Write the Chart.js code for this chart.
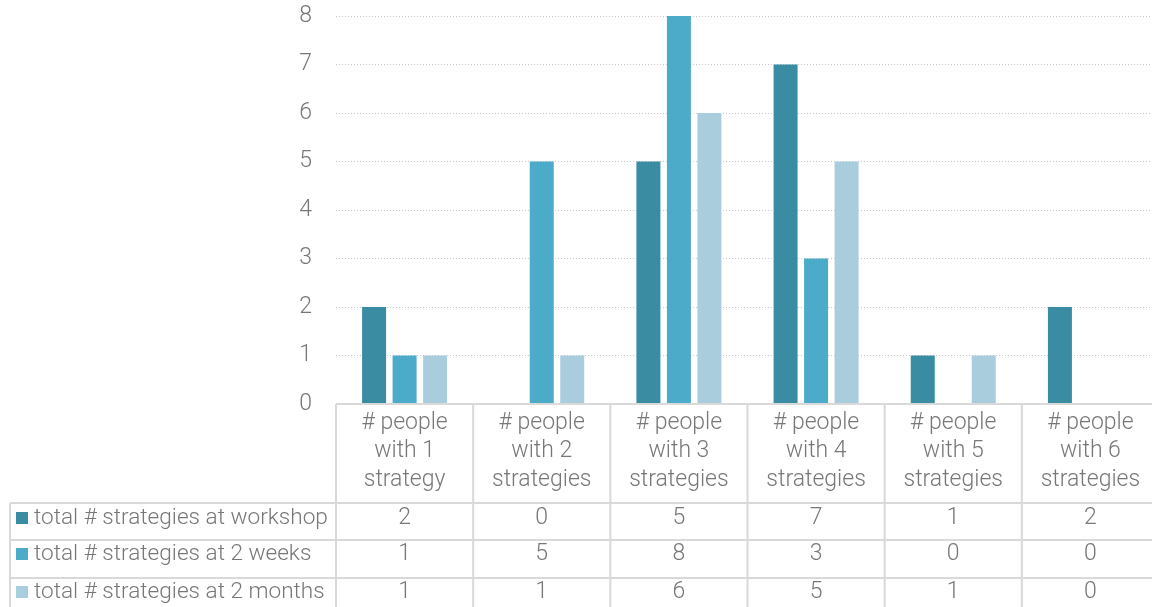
<!DOCTYPE html>
<html><head><meta charset="utf-8">
<script src="https://cdn.jsdelivr.net/npm/chart.js@4/dist/chart.umd.min.js"></script>
<style>html,body{margin:0;padding:0;background:#fff;overflow:hidden;}#wrap{width:1152px;height:607px;overflow:hidden;}</style>
</head><body><div id="wrap"><canvas id="c" width="1159" height="607"></canvas></div>
<script>
const categories = [
  ["# people", "with 1", "strategy"],
  ["# people", "with 2", "strategies"],
  ["# people", "with 3", "strategies"],
  ["# people", "with 4", "strategies"],
  ["# people", "with 5", "strategies"],
  ["# people", "with 6", "strategies"]
];
const seriesNames = ["total # strategies at workshop", "total # strategies at 2 weeks", "total # strategies at 2 months"];
const workshop = [2, 0, 5, 7, 1, 2];
const weeks2 = [1, 5, 8, 3, 0, 0];
const months2 = [1, 1, 6, 5, 1, 0];
const yTicks = [0, 1, 2, 3, 4, 5, 6, 7, 8];
const colors = ["#3A8CA2", "#4BABC8", "#A9CDDD"];

const FONT = "'Roboto', 'Liberation Sans', sans-serif";
const TEXT = "#777777";
const LINE = "#d9d9d9";

const tablePlugin = {
  id: 'dataTable',
  afterDraw(chart) {
    const ctx = chart.ctx;
    const x = chart.scales.x;
    const area = chart.chartArea;
    const n = categories.length;
    const cw = (area.right - area.left) / n;
    const top = area.bottom;
    const rowTops = [503, 540, 578];
    const bottom = 607;
    const legendLeft = 10;
    ctx.save();
    ctx.strokeStyle = LINE;
    ctx.lineWidth = 2;
    ctx.beginPath();
    ctx.moveTo(area.left, top); ctx.lineTo(area.right, top);
    rowTops.forEach(y => { ctx.moveTo(legendLeft, y); ctx.lineTo(area.right, y); });
    for (let i = 0; i <= n; i++) {
      const px = area.left + i * cw;
      ctx.moveTo(px, top); ctx.lineTo(px, bottom);
    }
    ctx.moveTo(legendLeft, rowTops[0]); ctx.lineTo(legendLeft, bottom);
    ctx.stroke();

    ctx.fillStyle = TEXT;
    ctx.font = "300 23px " + FONT;
    ctx.textAlign = 'center';
    ctx.textBaseline = 'middle';
    const headerY = [423, 451, 480];
    categories.forEach((lines, i) => {
      const cx = x.getPixelForValue(i);
      lines.forEach((t, j) => ctx.fillText(t, cx, headerY[j]));
    });
    const series = [workshop, weeks2, months2];
    const rowCenters = [518, 554, 592];
    series.forEach((vals, r) => {
      vals.forEach((v, i) => {
        ctx.fillText(String(v), x.getPixelForValue(i), rowCenters[r]);
      });
    });
    ctx.textAlign = 'left';
    ctx.font = "300 22.6px " + FONT;
    seriesNames.forEach((name, r) => {
      ctx.fillStyle = colors[r];
      ctx.fillRect(16, rowCenters[r] - 6, 12, 12);
      ctx.fillStyle = TEXT;
      ctx.fillText(name, 34, rowCenters[r]);
    });
    ctx.restore();
  }
};

new Chart(document.getElementById('c'), {
  type: 'bar',
  data: {
    labels: categories,
    datasets: [
      { label: seriesNames[0], data: workshop, backgroundColor: colors[0] },
      { label: seriesNames[1], data: weeks2, backgroundColor: colors[1] },
      { label: seriesNames[2], data: months2, backgroundColor: colors[2] }
    ]
  },
  options: {
    responsive: false,
    animation: false,
    events: [],
    layout: { padding: { top: 16, right: 0, left: 0, bottom: 0 } },
    plugins: { legend: { display: false }, tooltip: { enabled: false } },
    datasets: { bar: { categoryPercentage: 0.667, barPercentage: 0.787 } },
    scales: {
      x: {
        grid: { display: false, drawTicks: false },
        border: { display: false },
        ticks: { display: false },
        afterFit: s => { s.height = 203; s.paddingLeft = 0; s.paddingRight = 0; }
      },
      y: {
        min: 0, max: 8,
        afterBuildTicks: s => { s.ticks = yTicks.map(v => ({ value: v })); },
        grid: { color: "#c8c8c8", lineWidth: 1, drawTicks: false },
        border: { display: false, dash: [1, 2] },
        ticks: { color: TEXT, font: { family: FONT, size: 23, weight: 300 }, padding: 24 },
        afterFit: s => { s.width = 336; s.paddingTop = 0; s.paddingBottom = 0; }
      }
    }
  },
  plugins: [tablePlugin]
});
</script></body></html>
